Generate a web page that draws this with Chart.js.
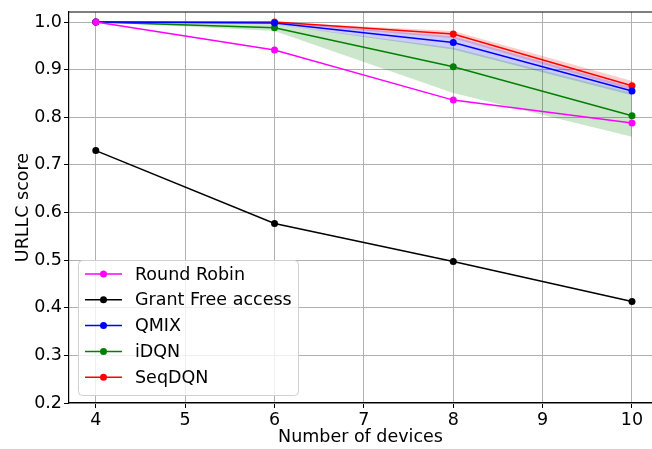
<!DOCTYPE html>
<html>
<head>
<meta charset="utf-8">
<script src="https://cdn.jsdelivr.net/npm/chart.js@4/dist/chart.umd.min.js"></script>
<style>
    html, body { margin: 0; padding: 0; background: #fff; }
    #wrap { width: 652px; height: 449px; }
</style>
</head>
<body>
<div id="wrap"><canvas id="chart" width="652" height="449"></canvas></div>
<script>
var DEVICES = [4, 6, 8, 10];
var X_TICKS = [4, 5, 6, 7, 8, 9, 10];
var Y_TICKS = [0.2, 0.3, 0.4, 0.5, 0.6, 0.7, 0.8, 0.9, 1.0];

var ROUND_ROBIN = [1.0, 0.941, 0.836, 0.788];
var GRANT_FREE = [0.730, 0.577, 0.497, 0.413];
var QMIX = [1.0, 0.998, 0.957, 0.855];
var IDQN = [1.0, 0.988, 0.906, 0.803];
var SEQDQN = [1.0, 1.0, 0.975, 0.866];

var IDQN_LO = [1.0, 0.981, 0.851, 0.759];
var IDQN_HI = [1.0, 0.995, 0.946, 0.851];
var QMIX_LO = [1.0, 0.995, 0.942, 0.846];
var QMIX_HI = [1.0, 1.0, 0.970, 0.863];
var SEQ_LO = [1.0, 0.998, 0.966, 0.857];
var SEQ_HI = [1.0, 1.0, 0.981, 0.876];

var FONT = "'DejaVu Sans', sans-serif";
var FONT_SIZE = 17.5;

function pts(values) {
    return values.map(function (v, i) {
        return { x: DEVICES[i], y: v };
    });
}

function line(label, values, color) {
    return {
        label: label,
        data: pts(values),
        borderColor: color,
        backgroundColor: color,
        borderWidth: 1.5,
        pointRadius: 3.5,
        pointBorderWidth: 0,
        pointHoverRadius: 3.5,
        fill: false,
        order: 0
    };
}

function band(lo, hi, fillColor) {
    return [
        { label: "_hi", data: pts(hi), borderWidth: 0, pointRadius: 0, fill: false, order: 10, borderColor: "transparent" },
        { label: "_lo", data: pts(lo), borderWidth: 0, pointRadius: 0, fill: "-1", backgroundColor: fillColor, order: 10, borderColor: "transparent" }
    ];
}

var datasets = [
    line("Round Robin", ROUND_ROBIN, "#ff00ff"),
    line("Grant Free access", GRANT_FREE, "#000000"),
    line("QMIX", QMIX, "#0000ff"),
    line("iDQN", IDQN, "#008000"),
    line("SeqDQN", SEQDQN, "#ff0000")
].concat(band(IDQN_LO, IDQN_HI, "rgba(0,128,0,0.2)"))
 .concat(band(QMIX_LO, QMIX_HI, "rgba(0,0,255,0.2)"))
 .concat(band(SEQ_LO, SEQ_HI, "rgba(255,0,0,0.2)"));

// legend in the lower left corner plus the top spine, like matplotlib
var boxLegend = {
    id: "boxLegend",
    afterDraw: function (chart) {
        var ctx = chart.ctx;
        var area = chart.chartArea;
        ctx.save();
        ctx.strokeStyle = "#000";
        ctx.lineWidth = 1.2;
        ctx.beginPath();
        ctx.moveTo(area.left, area.top);
        ctx.lineTo(area.right, area.top);
        ctx.stroke();

        var x = 78, y = 260, w = 220, h = 135, r = 4;
        ctx.fillStyle = "rgba(255,255,255,0.8)";
        ctx.strokeStyle = "#d0d0d0";
        ctx.lineWidth = 1;
        ctx.beginPath();
        ctx.roundRect(x + 0.5, y + 0.5, w, h, r);
        ctx.fill();
        ctx.stroke();

        var items = chart.data.datasets.filter(function (d) { return d.label.charAt(0) !== "_"; });
        ctx.font = FONT_SIZE + "px " + FONT;
        ctx.textBaseline = "middle";
        items.forEach(function (d, i) {
            var cy = 274 + i * 25.8;
            ctx.strokeStyle = d.borderColor;
            ctx.lineWidth = 1.5;
            ctx.beginPath();
            ctx.moveTo(85, cy);
            ctx.lineTo(122, cy);
            ctx.stroke();
            ctx.fillStyle = d.borderColor;
            ctx.beginPath();
            ctx.arc(103.5, cy, 3.5, 0, Math.PI * 2);
            ctx.fill();
            ctx.fillStyle = "#000";
            ctx.fillText(d.label, 135, cy + 1);
        });
        ctx.restore();
    }
};

new Chart(document.getElementById("chart").getContext("2d"), {
    type: "line",
    data: { datasets: datasets },
    options: {
        responsive: false,
        animation: false,
        events: [],
        layout: { autoPadding: false, padding: { top: 12, right: 0, left: 0, bottom: 0 } },
        plugins: { legend: { display: false }, tooltip: { enabled: false } },
        scales: {
            x: {
                type: "linear",
                min: 3.7,
                max: 10.224,
                afterBuildTicks: function (scale) {
                    scale.ticks = X_TICKS.map(function (v) { return { value: v }; });
                },
                afterFit: function (scale) {
                    scale.height = 46;
                    scale.paddingLeft = 0;
                    scale.paddingRight = 0;
                },
                grid: { color: "#b0b0b0", lineWidth: 1, tickLength: 5, tickColor: "#000" },
                border: { color: "#000", width: 1.2 },
                ticks: { color: "#000", font: { family: FONT, size: FONT_SIZE }, padding: 2, maxRotation: 0 },
                title: { display: true, text: "Number of devices", color: "#000", font: { family: FONT, size: FONT_SIZE }, padding: { top: 0, bottom: 1 } }
            },
            y: {
                min: 0.2,
                max: 1.021,
                afterBuildTicks: function (scale) {
                    scale.ticks = Y_TICKS.map(function (v) { return { value: v }; });
                },
                afterFit: function (scale) {
                    scale.width = 69;
                    scale.paddingTop = 0;
                    scale.paddingBottom = 0;
                },
                grid: { color: "#b0b0b0", lineWidth: 1, tickLength: 5, tickColor: "#000" },
                border: { color: "#000", width: 1.2 },
                ticks: {
                    color: "#000",
                    font: { family: FONT, size: FONT_SIZE },
                    padding: 2,
                    callback: function (v) { return Number(v).toFixed(1); }
                },
                title: { display: true, text: "URLLC score", color: "#000", font: { family: FONT, size: FONT_SIZE }, padding: { top: 12.5, bottom: 0 } }
            }
        }
    },
    plugins: [boxLegend]
});
</script>
</body>
</html>
